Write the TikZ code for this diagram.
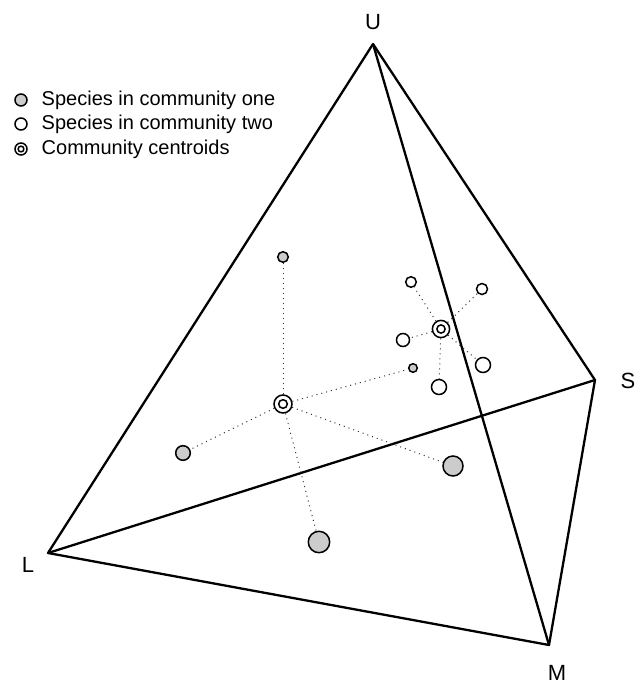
\documentclass[tikz,border=0pt]{standalone}
\usepackage{fontspec}
\setmainfont{Liberation Sans}
\usetikzlibrary{positioning}

\begin{document}
\begin{tikzpicture}[
  x=0.5pt, y=-0.5pt,
  edge/.style={line width=1.15pt, line join=round},
  link/.style={dotted, line width=0.5pt, black!80},
  sp/.style={circle, draw, line width=0.75pt, inner sep=0pt, minimum size=#1},
  one/.style={sp=#1, fill=black!20},
  two/.style={sp=#1, fill=white},
  centroid/.style={sp=#1, fill=white, path picture={\draw[line width=0.75pt] (path picture bounding box.center) circle (0.24*#1);}},
  vlabel/.style={font=\fontsize{11}{13}\selectfont, inner sep=0pt, anchor=base},
  legend/.style={font=\fontsize{10}{12}\selectfont, inner sep=0pt, anchor=west}
]
\useasboundingbox (0,0) rectangle (640,682);

% tetrahedron
\coordinate (U) at (373,44);
\coordinate (L) at (48,553);
\coordinate (S) at (595,380);
\coordinate (M) at (549,645);
\draw[edge] (U) -- (L) -- (M) -- (S) -- cycle;
\draw[edge] (U) -- (M);
\draw[edge] (L) -- (S);
\node[vlabel] (ulab) at (373,29) {U};
\node[vlabel] (llab) at (28,572) {L};
\node[vlabel] (slab) at (628,388) {S};
\node[vlabel] (mlab) at (557,680) {M};

% community one
\node[centroid=9pt] (cone) at (283,404) {};
\node[one=5.3pt] (one1) at (283,257) {};
\node[one=4.3pt] (one2) at (413,368) {};
\node[one=7.3pt] (one3) at (183,453) {};
\node[one=10pt] (one4) at (453,466) {};
\node[one=10.7pt] (one5) at (319,542) {};
\foreach \n in {1,...,5}
  \draw[link] (cone) -- (one\n);

% community two
\node[centroid=8.6pt] (ctwo) at (441,329) {};
\node[two=5.3pt] (two1) at (411,282) {};
\node[two=5.5pt] (two2) at (482,289) {};
\node[two=6.5pt] (two3) at (403,340) {};
\node[two=7.5pt] (two4) at (483,365) {};
\node[two=7.5pt] (two5) at (439,387) {};
\foreach \n in {1,...,5}
  \draw[link] (ctwo) -- (two\n);

% legend
\node[one=6pt] (lg1) at (21,100) {};
\node[two=6pt] (lg2) at (21,124) {};
\node[centroid=6pt] (lg3) at (21,149) {};
\node[legend, right=6.8pt of lg1] (lt1) {Species in community one};
\node[legend, right=6.8pt of lg2] (lt2) {Species in community two};
\node[legend, right=6.8pt of lg3] (lt3) {Community centroids};
\end{tikzpicture}
\end{document}
